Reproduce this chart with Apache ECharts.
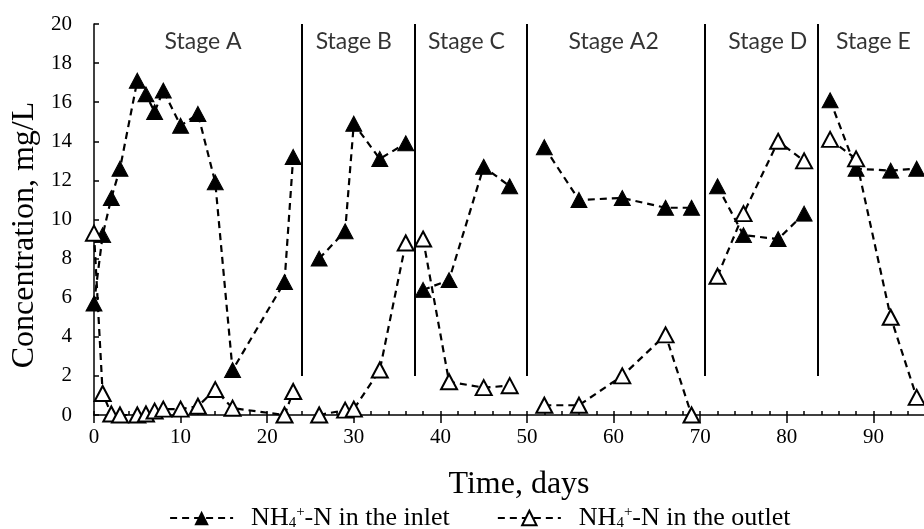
<!DOCTYPE html>
<html>
<head>
<meta charset="utf-8">
<script src="https://cdn.jsdelivr.net/npm/echarts@6/dist/echarts.min.js"></script>
<style>html,body{margin:0;padding:0;background:#fff}#c{width:924px;height:529px}</style>
</head>
<body>
<div id="c"></div>
<script>
// ---- data ----
const day    = [0,1,2,3,5,6,7,8,10,12,14,16,22,23, 26,29,30,33,36, 38,41,45,48, 52,56,61,66,69, 72,75,79,82, 85,88,92,95];
const inlet  = [5.7,9.2,11.1,12.6,17.1,16.4,15.5,16.6,14.8,15.4,11.9,2.3,6.8,13.2, 8.0,9.4,14.9,13.1,13.9, 6.4,6.9,12.7,11.7, 13.7,11.0,11.1,10.6,10.6, 11.7,9.2,9.0,10.3, 16.1,12.6,12.5,12.6];
const outlet = [9.3,1.1,0.05,0,0,0.05,0.2,0.3,0.3,0.45,1.3,0.35,0,1.2, 0,0.25,0.3,2.3,8.8, 9.0,1.7,1.4,1.5, 0.5,0.5,2.0,4.1,0, 7.1,10.3,14.0,13.0, 14.1,13.1,5.0,0.9];
const stageBounds = [24, 37, 50, 70.5, 83.6];
const stageNames  = ['Stage A','Stage B','Stage C','Stage A2','Stage D','Stage E'];
const stageLabelX = [12.6, 30, 43, 60, 77.8, 90];
const stageLabelY = 19.1;
const stageLineBottom = 2;
const yTicks = {min: 0, max: 20, interval: 2};
const xTicks = {min: 0, max: 100, interval: 10};
const nameIn  = 'NH4+-N in the inlet';
const nameOut = 'NH4+-N in the outlet';

function stageIndex(d){ let s=0; stageBounds.forEach(b=>{ if(d>b) s++; }); return s; }
function buildSeries(vals){
  const out=[]; let prev=null;
  day.forEach((d,i)=>{
    const s=stageIndex(d);
    if(prev!==null && s!==prev) out.push([stageBounds[prev], null]);
    out.push([d, vals[i]]); prev=s;
  });
  return out;
}

const serif = '"Liberation Serif","Times New Roman",serif';
const chart = echarts.init(document.getElementById('c'), null, {renderer:'canvas'});
const dashed = {color:'#000', width:2.2, type:[7,5]};

chart.setOption({
  animation:false,
  backgroundColor:'#fff',
  grid:{left:94, top:24, width:866, height:391, containLabel:false, outerBoundsMode:'none'},
  xAxis:[{
    type:'value', min:xTicks.min, max:xTicks.max, interval:xTicks.interval,
    axisLine:{lineStyle:{color:'#000', width:1.5}},
    axisTick:{show:true, inside:true, length:4, lineStyle:{color:'#000', width:1.5}},
    minorTick:{show:true, splitNumber:5, length:4, lineStyle:{color:'#000', width:1.5}},
    axisLabel:{fontFamily:serif, fontSize:21, color:'#000', margin:12},
    splitLine:{show:false}
  },{
    type:'value', position:'bottom', min:xTicks.min, max:xTicks.max, interval:xTicks.interval,
    axisLine:{show:false}, axisLabel:{show:false}, splitLine:{show:false},
    axisTick:{show:true, inside:false, length:8, lineStyle:{color:'#000', width:1.5}}
  }],
  yAxis:{
    type:'value', min:yTicks.min, max:yTicks.max, interval:yTicks.interval,
    axisLine:{show:true, lineStyle:{color:'#000', width:1.5}},
    axisTick:{show:true, inside:true, length:5, lineStyle:{color:'#000', width:1.5}},
    axisLabel:{fontFamily:serif, fontSize:21, color:'#000', margin:22},
    splitLine:{show:false}
  },
  legend:{
    data:[nameIn, nameOut], left:164, top:500, itemWidth:63, itemHeight:18, itemGap:47,
    lineStyle:{width:2.2, type:[7,5]},
    formatter:function(n){ return n===nameIn ? '{p|NH}{b|4}{c|+}{a|-N in the inlet}' : '{p|NH}{b|4}{c|+}{a|-N in the outlet}'; },
    textStyle:{color:'#000', fontFamily:serif, fontSize:26,
      rich:{a:{fontFamily:serif,fontSize:26,color:'#000'},
            p:{fontFamily:serif,fontSize:26,color:'#000',padding:[0,0,0,13]},
            b:{fontFamily:serif,fontSize:15,color:'#000',verticalAlign:'bottom',padding:[10,0,0,0]},
            c:{fontFamily:serif,fontSize:15,color:'#000',verticalAlign:'top',padding:[0,0,10,0]}}}
  },
  graphic:[
    {type:'text', x:25, y:235, rotation:Math.PI/2, style:{text:'Concentration, mg/L', font:'32px '+serif, fill:'#000', align:'center', verticalAlign:'middle'}},
    {type:'text', x:519, y:485, style:{text:'Time, days', font:'32px '+serif, fill:'#000', align:'center', verticalAlign:'middle'}}
  ],
  series:[
    {name:nameIn, type:'line', data:buildSeries(inlet), connectNulls:false,
     symbol:'triangle', symbolSize:[16,15], showAllSymbol:true,
     itemStyle:{color:'#000', borderColor:'#000'}, lineStyle:dashed,
     markLine:{silent:true, symbol:'none', label:{show:false},
       lineStyle:{color:'#000', width:2, type:'solid'},
       data: stageBounds.map(b=>[{coord:[b, stageLineBottom]},{coord:[b, yTicks.max]}])}
    },
    {name:nameOut, type:'line', data:buildSeries(outlet), connectNulls:false,
     symbol:'triangle', symbolSize:[16,15], showAllSymbol:true,
     itemStyle:{color:'#fff', borderColor:'#000', borderWidth:2}, lineStyle:dashed},
    {name:'stages', type:'scatter', symbolSize:1, itemStyle:{color:'rgba(0,0,0,0)'}, silent:true,
     data: stageNames.map((s,i)=>({value:[stageLabelX[i], stageLabelY], name:s})),
     label:{show:true, position:'inside', formatter:'{b}', fontFamily:'Lato, "Open Sans", sans-serif', fontSize:23, color:'#000'}}
  ]
});
</script>
</body>
</html>
